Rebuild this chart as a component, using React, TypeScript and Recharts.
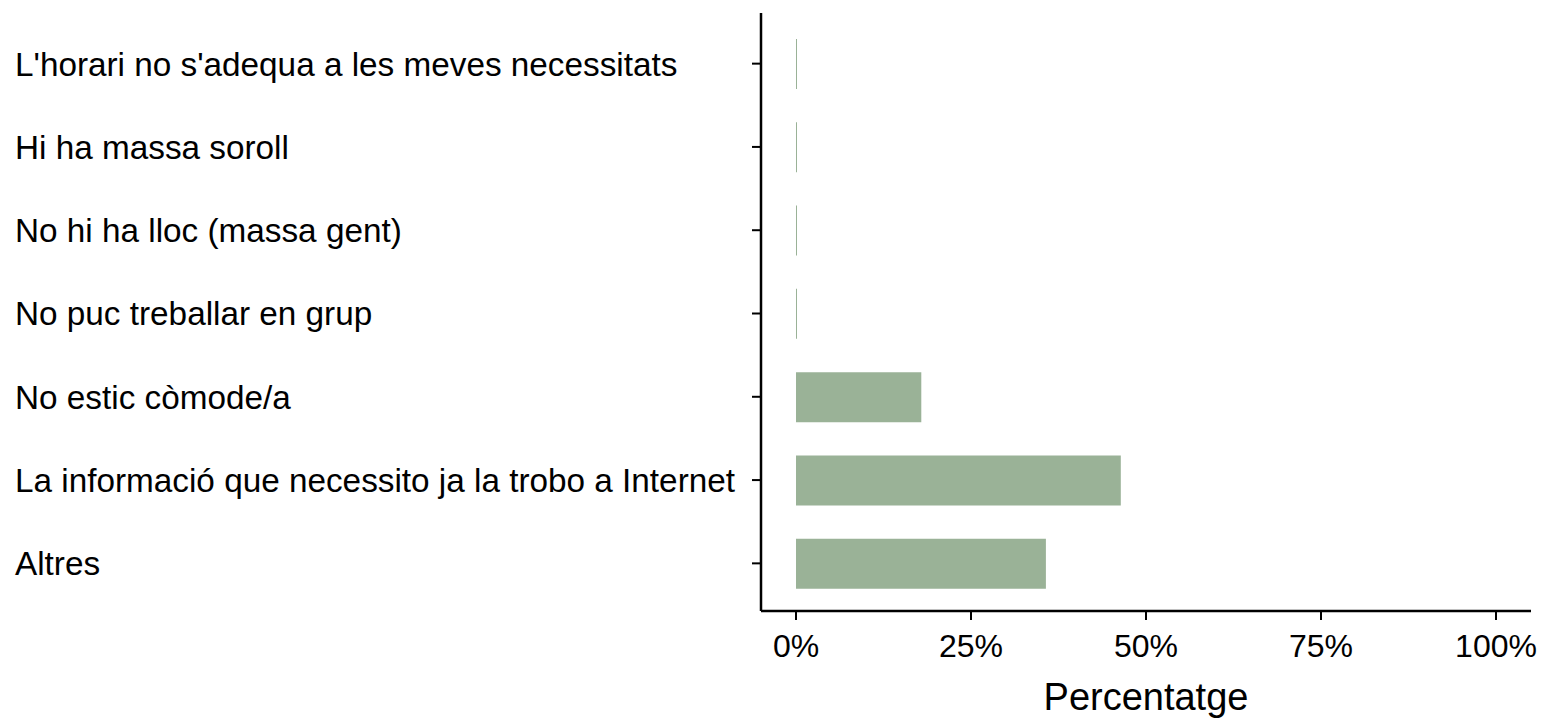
import { BarChart, Bar, XAxis, YAxis } from 'recharts';

// survey answers (top to bottom) and their share of responses
const categories = [
  "L'horari no s'adequa a les meves necessitats",
  'Hi ha massa soroll',
  'No hi ha lloc (massa gent)',
  'No puc treballar en grup',
  'No estic còmode/a',
  'La informació que necessito ja la trobo a Internet',
  'Altres',
];
const percentages = [0, 0, 0, 0, 17.9, 46.4, 35.7];
const xTicks = [0, 25, 50, 75, 100];

const data = categories.map((name, i) => ({ name, value: percentages[i] }));

const FONT = '"Liberation Sans", Arial, Helvetica, sans-serif';

function CategoryTick(props: any) {
  const { y, payload } = props;
  return (
    <text x={15} y={y} dy="0.36em" textAnchor="start" fontSize={33.3} fill="#000" fontFamily={FONT}>
      {payload.value}
    </text>
  );
}

export default function App() {
  return (
    <div style={{ position: 'absolute', left: 0, top: 0, background: '#fff' }}>
      <BarChart
        width={1543}
        height={718}
        data={data}
        layout="vertical"
        margin={{ top: 13, right: 12, bottom: 0, left: 0 }}
      >
        <XAxis
          type="number"
          domain={[-5, 105]}
          ticks={xTicks}
          allowDataOverflow
          tickFormatter={(v) => `${v}%`}
          height={107}
          tickSize={9}
          tickMargin={14}
          axisLine={{ stroke: '#000', strokeWidth: 2.5 }}
          tickLine={{ stroke: '#000', strokeWidth: 2 }}
          tick={{ fill: '#000', fontSize: 32, fontFamily: FONT }}
          label={{ value: 'Percentatge', position: 'insideBottom', offset: 8, fill: '#000', fontSize: 38, fontFamily: FONT }}
        />
        <YAxis
          type="category"
          dataKey="name"
          width={761}
          padding={{ top: 9, bottom: 6 }}
          tickSize={9}
          axisLine={{ stroke: '#000', strokeWidth: 2.5 }}
          tickLine={{ stroke: '#000', strokeWidth: 2 }}
          tick={<CategoryTick />}
          interval={0}
        />
        <Bar dataKey="value" fill="#9AB297" barSize={50} minPointSize={1} isAnimationActive={false} />
      </BarChart>
    </div>
  );
}
